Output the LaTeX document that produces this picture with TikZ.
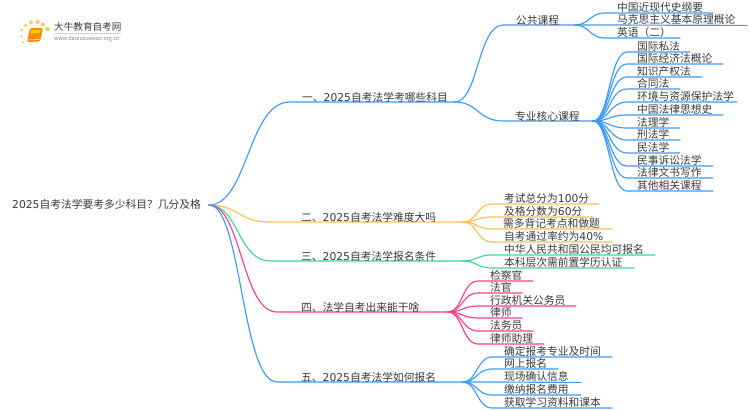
\documentclass[tikz,border=0pt]{standalone}
\usepackage{fontspec}
\setmainfont{Noto Sans CJK SC}
\newfontfamily\dv{DejaVu Sans}
\definecolor{cblue}{HTML}{3D9BFF}
\definecolor{corange}{HTML}{FFC14F}
\definecolor{cgreen}{HTML}{3FD696}
\definecolor{cpink}{HTML}{FF3D8E}
\definecolor{ctext}{HTML}{3A3A3A}
\tikzset{
  lab/.style={anchor=base west,inner sep=0pt,text=ctext,font=\fontsize{10.75}{12}\selectfont},
  conn/.style={line width=1.15pt,line cap=round,line join=round},
}
% id, colour, from, jx, jy, curve end x, line end x, text x, text
\newcommand{\leafnode}[9]{%
  \pgfmathsetmacro{\cx}{#4+(#6-#4)*0.48}%
  \coordinate (#1-s) at (#6,\lfy);
  \coordinate (#1-e) at (#7,\lfy+\lftilt);
  \draw[conn,#2] (#3) .. controls (\cx,#5) and (\cx,\lfy) .. (#1-s) -- (#1-e);
  \node[lab] (#1) at (#8,\lfy-\lfoff) {#9};
}
\newcommand{\setY}[1]{\def\lfy{#1}}
\def\lfoff{0.5}
\def\lftilt{0}
\begin{document}
\begin{tikzpicture}[x=1pt,y=-1pt]
\useasboundingbox (0,0) rectangle (750,410);
\fill[white] (0,0) rectangle (750,410);
% logo
\foreach \dx/\dy/\r in {21.5/30/1.6,25.5/25.5/1.8,31/22.5/2,37.5/22/2.1,43/24.5/2.1,47.5/29/2.3,21.5/36.5/1.3,23/42.5/1.1}
  \fill[corange!85!white] (\dx,\dy) circle (\r);
\fill[orange!90!yellow,rounded corners=1.5pt] (30,28) -- (43,28) -- (40,41.5) -- (27,42) -- cycle;
\fill[yellow!70!orange] (31.5,30) -- (40.5,30) -- (40,33) -- (31,33) -- cycle;
\draw[white,line width=0.5pt] (28,40) -- (39.5,39.5);
\node[anchor=west,inner sep=0pt,text=ctext,font=\fontsize{9.6}{11}\selectfont] (logot) at (54,27) {大牛教育自考网};
\draw[gray!35,line width=0.5pt] (54,33) -- (121,33);
\node[anchor=west,inner sep=0pt,text=gray,font=\fontsize{5.4}{6}\selectfont] (logou) at (54,39) {www.daniuxuexiao.org.cn};
% root
\node[lab] (root) at (12,208.7) {{\dv 2025}自考法学要考多少科目？几分及格};
\coordinate (r) at (209,205);
\setY{102}\leafnode{b1}{cblue}{r}{209}{205}{290}{455}{302}{一、{\dv 2025}自考法学考哪些科目}
\setY{222}\leafnode{b2}{corange}{r}{209}{205}{270}{463}{301}{二、{\dv 2025}自考法学难度大吗}
\setY{261}\leafnode{b3}{cgreen}{r}{209}{205}{270}{463}{301}{三、{\dv 2025}自考法学报名条件}
\setY{312}\leafnode{b4}{cpink}{r}{209}{205}{277}{448}{301}{四、法学自考出来能干啥}
\setY{382}\leafnode{b5}{cblue}{r}{209}{205}{277}{463}{301}{五、{\dv 2025}自考法学如何报名}
% level 2 of branch 1
\setY{25}\leafnode{c1}{cblue}{b1-e}{455}{102}{503}{575}{516}{公共课程}
\setY{121}\leafnode{c2}{cblue}{b1-e}{455}{102}{503}{593}{515}{专业核心课程}
\def\lfoff{1.5}
% public courses
\setY{13}\leafnode{d1}{cblue}{c1-e}{575}{25}{605}{713}{617}{中国近现代史纲要}
\def\lftilt{0.4}
\setY{25}\leafnode{d2}{cblue}{c1-e}{575}{25}{605}{747}{617}{马克思主义基本原理概论}
\def\lftilt{0}
\setY{38}\leafnode{d3}{cblue}{c1-e}{575}{25}{605}{680}{617}{英语（二）}
% core courses
\setY{52}\leafnode{e1}{cblue}{c2-e}{593}{121}{627}{690}{637}{国际私法}
\setY{64}\leafnode{e2}{cblue}{c2-e}{593}{121}{627}{723}{637}{国际经济法概论}
\setY{77}\leafnode{e3}{cblue}{c2-e}{593}{121}{627}{702}{637}{知识产权法}
\setY{89}\leafnode{e4}{cblue}{c2-e}{593}{121}{627}{680}{637}{合同法}
\setY{102}\leafnode{e5}{cblue}{c2-e}{593}{121}{627}{737}{637}{环境与资源保护法学}
\setY{115}\leafnode{e6}{cblue}{c2-e}{593}{121}{627}{723}{637}{中国法律思想史}
\setY{128}\leafnode{e7}{cblue}{c2-e}{593}{121}{627}{680}{637}{法理学}
\setY{140}\leafnode{e8}{cblue}{c2-e}{593}{121}{627}{680}{637}{刑法学}
\setY{153}\leafnode{e9}{cblue}{c2-e}{593}{121}{627}{680}{637}{民法学}
\setY{166}\leafnode{e10}{cblue}{c2-e}{593}{121}{627}{713}{637}{民事诉讼法学}
\setY{178}\leafnode{e11}{cblue}{c2-e}{593}{121}{627}{713}{637}{法律文书写作}
\setY{191}\leafnode{e12}{cblue}{c2-e}{593}{121}{627}{713}{637}{其他相关课程}
% branch 2
\setY{204}\leafnode{f1}{corange}{b2-e}{463}{222}{492}{599}{504}{考试总分为{\dv 100}分}
\setY{217}\leafnode{f2}{corange}{b2-e}{463}{222}{492}{593}{504}{及格分数为{\dv 60}分}
\setY{229}\leafnode{f3}{corange}{b2-e}{463}{222}{492}{612}{503}{需多背记考点和做题}
\setY{242}\leafnode{f4}{corange}{b2-e}{463}{222}{492}{612}{504}{自考通过率约为{\dv 40\%}}
% branch 3
\setY{255}\leafnode{g1}{cgreen}{b3-e}{463}{261}{492}{655}{504}{中华人民共和国公民均可报名}
\setY{268}\leafnode{g2}{cgreen}{b3-e}{463}{261}{492}{634}{504}{本科层次需前置学历认证}
% branch 4
\setY{281}\leafnode{h1}{cpink}{b4-e}{448}{312}{478}{533}{490}{检察官}
\setY{293}\leafnode{h2}{cpink}{b4-e}{448}{312}{478}{522}{490}{法官}
\setY{306}\leafnode{h3}{cpink}{b4-e}{448}{312}{478}{576}{490}{行政机关公务员}
\setY{318}\leafnode{h4}{cpink}{b4-e}{448}{312}{478}{522}{490}{律师}
\setY{331}\leafnode{h5}{cpink}{b4-e}{448}{312}{478}{533}{490}{法务员}
\setY{344}\leafnode{h6}{cpink}{b4-e}{448}{312}{478}{544}{490}{律师助理}
% branch 5
\setY{357}\leafnode{k1}{cblue}{b5-e}{463}{382}{492}{612}{504}{确定报考专业及时间}
\setY{369}\leafnode{k2}{cblue}{b5-e}{463}{382}{492}{558}{504}{网上报名}
\def\lftilt{0.4}
\setY{382}\leafnode{k3}{cblue}{b5-e}{463}{382}{492}{581}{504}{现场确认信息}
\def\lftilt{0}
\setY{395}\leafnode{k4}{cblue}{b5-e}{463}{382}{492}{581}{504}{缴纳报名费用}
\setY{408}\leafnode{k5}{cblue}{b5-e}{463}{382}{492}{612}{504}{获取学习资料和课本}
\end{tikzpicture}
\end{document}
